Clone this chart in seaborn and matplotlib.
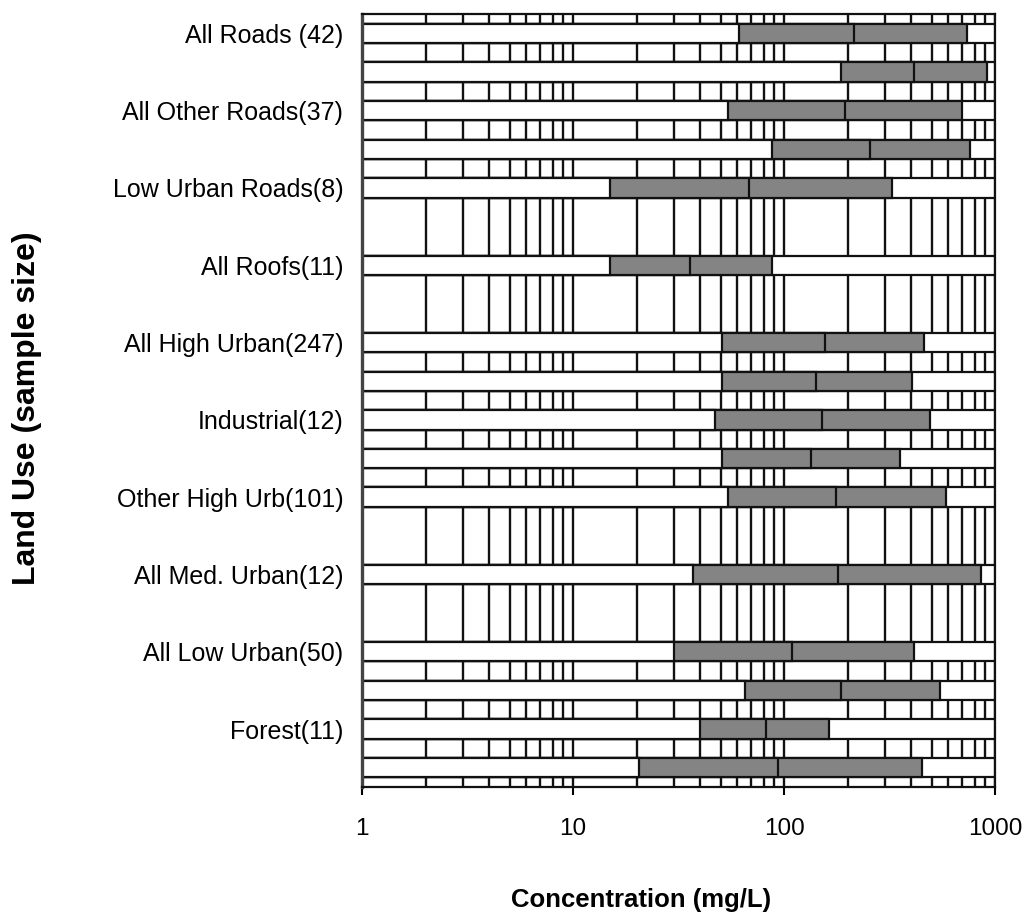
import pandas as pd
import matplotlib
matplotlib.use('Agg')
import matplotlib.pyplot as plt
import matplotlib.ticker as mticker
import seaborn as sns

# category rows, top to bottom (only every other label is printed in the original)
row_labels = ['All Roads (42)', '', 'All Other Roads(37)', '', 'Low Urban Roads(8)', '',
              'All Roofs(11)', '', 'All High Urban(247)', '', 'Industrial(12)', '',
              'Other High Urb(101)', '', 'All Med. Urban(12)', '', 'All Low Urban(50)', '',
              'Forest(11)', '']

# rows that actually have a bar
bar_rows = [0, 1, 2, 3, 4, 6, 8, 9, 10, 11, 12, 14, 16, 17, 18, 19]

# concentration (mg/L): lower end of grey box, middle split, upper end
p25 = [61, 186, 54, 88, 15, 15, 51, 51, 47, 51, 54, 37, 30, 65, 40, 20.5]
median = [215, 411, 195, 256, 68, 36, 156, 142, 151, 134, 176, 180, 109, 186, 82, 94]
p75 = [739, 914, 697, 763, 326, 88, 460, 402, 492, 356, 587, 853, 411, 551, 164, 450]

x_ticks = [1, 10, 100, 1000]
x_tick_labels = ['1', '10', '100', '1000']

df = pd.DataFrame({'row': bar_rows, 'p25': p25, 'median': median, 'p75': p75})
df['top'] = x_ticks[-1]

sns.set_theme(style='white')
plt.rcParams['font.family'] = ['Liberation Sans', 'DejaVu Sans']
plt.rcParams['text.color'] = 'black'
plt.rcParams['axes.labelcolor'] = 'black'
plt.rcParams['xtick.color'] = 'black'
plt.rcParams['ytick.color'] = 'black'

fig = plt.figure(figsize=(10.3, 9.18), dpi=100)
ax = fig.add_axes([0.3515, 0.1427, 0.6146, 0.842])
ax.set_xscale('log')

order = list(range(len(row_labels)))
grey = '#848484'
# overlapping bars give the stacked look: full white, grey to p75, grey to median, white to p25
for col, colour in [('top', 'white'), ('p75', grey), ('median', grey), ('p25', 'white')]:
    sns.barplot(data=df, x=col, y='row', orient='h', order=order, color=colour,
                saturation=1, width=0.5, edgecolor='#111111', linewidth=1.6,
                errorbar=None, ax=ax)

ax.set_xlim(1, 1000)
ax.set_ylim(len(row_labels) - 0.5, -0.5)

ax.xaxis.set_major_locator(mticker.FixedLocator(x_ticks))
ax.xaxis.set_major_formatter(mticker.FixedFormatter(x_tick_labels))
ax.xaxis.set_minor_locator(mticker.LogLocator(base=10, subs=range(2, 10)))
ax.xaxis.set_minor_formatter(mticker.NullFormatter())
ax.set_yticks(order, labels=row_labels)

ax.grid(True, which='both', axis='x', color='#111111', linewidth=1.7)
ax.set_axisbelow(True)

ax.tick_params(axis='x', which='major', bottom=True, direction='out', length=6,
               width=1.5, color='black', pad=16, labelsize=17.5)
ax.tick_params(axis='x', which='minor', bottom=False, length=0)
ax.tick_params(axis='y', left=False, length=0, pad=13.5, labelsize=18)

for side in ['top', 'right', 'bottom']:
    ax.spines[side].set_color('#111111')
    ax.spines[side].set_linewidth(1.6)
ax.spines['left'].set_color('#444444')
ax.spines['left'].set_linewidth(2.4)

ax.set_xlabel('Concentration (mg/L)', fontsize=18.5, fontweight='bold')
ax.set_ylabel('Land Use (sample size)', fontsize=23, fontweight='bold')
ax.xaxis.set_label_coords(0.4408, -0.1307)
ax.yaxis.set_label_coords(-0.5055, 0.49)

fig.savefig('out.png', dpi=100)
